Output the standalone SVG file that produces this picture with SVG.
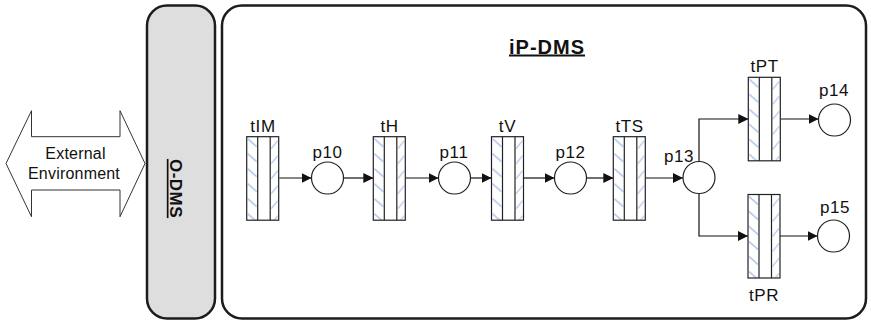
<svg xmlns="http://www.w3.org/2000/svg" xmlns:xlink="http://www.w3.org/1999/xlink" width="871" height="324" viewBox="0 0 871 324">
<style>
  .lbl { font-family: "Liberation Sans", Arial, sans-serif; font-size: 17px; fill: #111; text-anchor: middle; letter-spacing: 0.6px; }
  .ext { font-family: "Liberation Sans", Arial, sans-serif; font-size: 16px; fill: #111; text-anchor: middle; letter-spacing: 0.2px; }
  .title { font-family: "Liberation Sans", Arial, sans-serif; font-weight: bold; fill: #111; text-anchor: middle; text-decoration: underline; }
  .place { fill: #fff; stroke: #222; stroke-width: 1.2; }
  .conn { fill: none; stroke: #111; stroke-width: 1.2; marker-end: url(#ah); }
  .box { stroke: #1c1c1c; stroke-width: 2.5; }
</style>
<defs>
  <marker id="ah" markerUnits="userSpaceOnUse" markerWidth="10" markerHeight="10" refX="10" refY="5" orient="auto">
    <path d="M0,0 L10,5 L0,10 z" fill="#111"/>
  </marker>
  <pattern id="hL" patternUnits="userSpaceOnUse" x="0" y="0" width="11" height="15">
    <path d="M1,2 L10,10" stroke="#9bb6e6" stroke-width="1.1"/>
  </pattern>
  <pattern id="hR" patternUnits="userSpaceOnUse" x="23.5" y="0" width="8.5" height="15">
    <path d="M1,12 L7.5,4" stroke="#9bb6e6" stroke-width="1.1"/>
  </pattern>
  <g id="tr">
    <rect x="0" y="0" width="32" height="83.5" fill="#fff"/>
    <rect x="0" y="0" width="11" height="83.5" fill="url(#hL)"/>
    <rect x="23.5" y="0" width="8.5" height="83.5" fill="url(#hR)"/>
    <rect x="0" y="0" width="32" height="83.5" fill="none" stroke="#222" stroke-width="1.2"/>
    <path d="M11,0 V83.5 M23.5,0 V83.5" stroke="#222" stroke-width="1.2"/>
  </g>
</defs>

<g id="external">
  <polygon points="6,163.5 31.5,110.7 31.5,136.7 120,136.7 120,110.7 145,163.5 120,216.7 120,190 31.5,190 31.5,216.7" fill="#fff" stroke="#333" stroke-width="1"/>
  <text class="ext" x="75.5" y="158.5">External</text>
  <text class="ext" x="74" y="178.5">Environment</text>
</g>

<g id="O-DMS">
  <rect class="box" x="147" y="5.5" width="68" height="313" rx="20" ry="20" fill="#dedede"/>
  <text class="title" font-size="17" letter-spacing="0.5" transform="translate(169.5,188.5) rotate(90)" x="0" y="0">O-DMS</text>
</g>

<g id="iP-DMS">
  <rect class="box" x="222" y="5.5" width="644" height="313" rx="20" ry="20" fill="#fff"/>
  <text class="title" font-size="20" letter-spacing="1" x="547" y="53.5">iP-DMS</text>
</g>

<g id="connectors">
  <path class="conn" d="M279.3,178 H311.5"/>
  <path class="conn" d="M343.5,178 H373.3"/>
  <path class="conn" d="M405,178 H438.5"/>
  <path class="conn" d="M470.5,178 H491.5"/>
  <path class="conn" d="M523.5,178 H554.5"/>
  <path class="conn" d="M586.5,178 H613.3"/>
  <path class="conn" d="M645.3,178 H683"/>
  <path class="conn" d="M699,161.5 V119 H748.3"/>
  <path class="conn" d="M699,193.5 V236 H748"/>
  <path class="conn" d="M780.3,119 H818.5"/>
  <path class="conn" d="M780,236 H817.5"/>
</g>

<g id="tIM"><use xlink:href="#tr" href="#tr" transform="translate(246.7,136.7)"/><text class="lbl" x="263" y="131.5">tIM</text></g>
<g id="tH"><use xlink:href="#tr" href="#tr" transform="translate(373.3,136.7)"/><text class="lbl" x="389.5" y="131.5">tH</text></g>
<g id="tV"><use xlink:href="#tr" href="#tr" transform="translate(491.5,136.7)"/><text class="lbl" x="507.5" y="131.5">tV</text></g>
<g id="tTS"><use xlink:href="#tr" href="#tr" transform="translate(613.3,136.7)"/><text class="lbl" x="629.5" y="131.5">tTS</text></g>
<g id="tPT"><use xlink:href="#tr" href="#tr" transform="translate(748.3,77.3)"/><text class="lbl" x="764.5" y="72">tPT</text></g>
<g id="tPR"><use xlink:href="#tr" href="#tr" transform="translate(748,194.5)"/><text class="lbl" x="764" y="300.5">tPR</text></g>

<g id="p10"><circle class="place" cx="327.5" cy="178" r="16"/><text class="lbl" x="327.5" y="158">p10</text></g>
<g id="p11"><circle class="place" cx="454.5" cy="178" r="16"/><text class="lbl" x="454" y="158">p11</text></g>
<g id="p12"><circle class="place" cx="570.5" cy="178" r="16"/><text class="lbl" x="570.5" y="157.5">p12</text></g>
<g id="p13"><circle class="place" cx="699" cy="177.5" r="16"/><text class="lbl" x="679" y="161.5">p13</text></g>
<g id="p14"><circle class="place" cx="834.5" cy="120" r="16"/><text class="lbl" x="834" y="95.5">p14</text></g>
<g id="p15"><circle class="place" cx="833.5" cy="236" r="16"/><text class="lbl" x="835" y="212.5">p15</text></g>
</svg>
